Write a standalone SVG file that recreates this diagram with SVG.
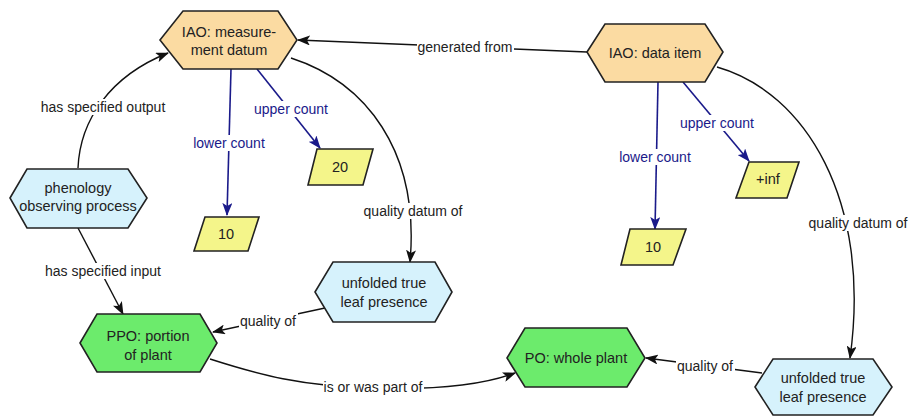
<svg xmlns="http://www.w3.org/2000/svg" width="908" height="416" viewBox="0 0 908 416">
<defs>
<style>
.n{stroke:#222;stroke-width:1.6;stroke-linejoin:miter}
.iao{fill:#fbdba2}
.blu{fill:#d6f2fc}
.grn{fill:#6ceb6c}
.val{fill:#f4f58a}
.nt{font-family:"Liberation Sans",Arial,sans-serif;font-size:14.5px;fill:#222;text-anchor:middle}
.e{fill:none;stroke:#111;stroke-width:1.4}
.eb{fill:none;stroke:#1a1a8a;stroke-width:1.6}
.bg{fill:#fff}
.el{font-family:"Liberation Sans",Arial,sans-serif;font-size:14px;fill:#222;text-anchor:middle}
.elb{fill:#1a1a8a}
</style>
<marker id="ak" viewBox="0 0 13 10" refX="12" refY="5" markerWidth="13" markerHeight="10" markerUnits="userSpaceOnUse" orient="auto">
<path d="M0,0 L13,5 L0,10 L3,5 z" fill="#111"/>
</marker>
<marker id="ab" viewBox="0 0 13 10" refX="12" refY="5" markerWidth="13" markerHeight="10" markerUnits="userSpaceOnUse" orient="auto">
<path d="M0,0 L13,5 L0,10 L3,5 z" fill="#1a1a8a"/>
</marker>
</defs>
<rect width="908" height="416" fill="#fff"/>
<g id="connectors">
<path class="e" d="M78,168 C80,120 110,76 168,53" marker-end="url(#ak)"/>
<path class="e" d="M78,228 L123,314" marker-end="url(#ak)"/>
<path class="e" d="M587,52 L298,40" marker-end="url(#ak)"/>
<path class="eb" d="M231,69 L227,215" marker-end="url(#ab)"/>
<path class="eb" d="M257,69 L320,148" marker-end="url(#ab)"/>
<path class="e" d="M291,58 C365,82 420,150 410,262" marker-end="url(#ak)"/>
<path class="eb" d="M658,82 L655,229" marker-end="url(#ab)"/>
<path class="eb" d="M683,82 L749,161" marker-end="url(#ab)"/>
<path class="e" d="M717,67 C805,92 872,200 850,358" marker-end="url(#ak)"/>
<path class="e" d="M325,308 L213,332" marker-end="url(#ak)"/>
<path class="e" d="M210,359 C260,375 300,386 373,388 C430,390 480,386 515,373" marker-end="url(#ak)"/>
<path class="e" d="M762,373 L646,358" marker-end="url(#ak)"/>
<rect class="bg" x="40" y="99" width="127" height="16"/>
<text class="el" x="103" y="112">has specified output</text>
<rect class="bg" x="44" y="263" width="119" height="16"/>
<text class="el" x="103" y="276">has specified input</text>
<rect class="bg" x="417" y="39" width="97" height="16"/>
<text class="el" x="465" y="52">generated from</text>
<rect class="bg" x="192" y="135" width="74" height="16"/>
<text class="el elb" x="229" y="148">lower count</text>
<rect class="bg" x="253" y="101" width="77" height="16"/>
<text class="el elb" x="291" y="114">upper count</text>
<rect class="bg" x="363" y="203" width="101" height="16"/>
<text class="el" x="413" y="216">quality datum of</text>
<rect class="bg" x="618" y="149" width="74" height="16"/>
<text class="el elb" x="655" y="162">lower count</text>
<rect class="bg" x="679" y="115" width="77" height="16"/>
<text class="el elb" x="717" y="128">upper count</text>
<rect class="bg" x="808" y="215" width="100" height="16"/>
<text class="el" x="858" y="228">quality datum of</text>
<rect class="bg" x="239" y="313" width="59" height="16"/>
<text class="el" x="268" y="326">quality of</text>
<rect class="bg" x="323" y="379" width="101" height="16"/>
<text class="el" x="373" y="392">is or was part of</text>
<rect class="bg" x="676" y="358" width="59" height="16"/>
<text class="el" x="705" y="371">quality of</text>
</g>
<g id="iao-measurement-datum">
<polygon class="n iao" points="160,40 183,11 278,11 297,40 278,69 183,69"/>
<text class="nt" x="229" y="37">IAO: measure-</text>
<text class="nt" x="229" y="55">ment datum</text>
</g>
<g id="iao-data-item">
<polygon class="n iao" points="587,52 605,24 705,24 723,52 705,82 605,82"/>
<text class="nt" x="655" y="58">IAO: data item</text>
</g>
<g id="phenology-observing-process">
<polygon class="n blu" points="10,198 27,169 128,169 147,198 128,228 27,228"/>
<text class="nt" x="78" y="193">phenology</text>
<text class="nt" x="78" y="211">observing process</text>
</g>
<g id="val-10-left">
<polygon class="n val" points="205,217 259,217 248,251 194,251"/>
<text class="nt" x="226" y="239">10</text>
</g>
<g id="val-20">
<polygon class="n val" points="317,149 373,149 363,185 308,185"/>
<text class="nt" x="340" y="172">20</text>
</g>
<g id="val-inf">
<polygon class="n val" points="749,162 799,162 787,198 736,198"/>
<text class="nt" x="768" y="184">+inf</text>
</g>
<g id="val-10-right">
<polygon class="n val" points="630,229 686,229 673,265 621,265"/>
<text class="nt" x="653" y="252">10</text>
</g>
<g id="unfolded-mid">
<polygon class="n blu" points="315,292 333,262 435,262 452,292 435,322 333,322"/>
<text class="nt" x="384" y="288">unfolded true</text>
<text class="nt" x="384" y="307">leaf presence</text>
</g>
<g id="ppo-portion-of-plant">
<polygon class="n grn" points="80,343 97,314 200,314 217,343 200,372 97,372"/>
<text class="nt" x="148" y="341">PPO: portion</text>
<text class="nt" x="148" y="360">of plant</text>
</g>
<g id="po-whole-plant">
<polygon class="n grn" points="507,358 525,328 627,328 645,358 627,387 525,387"/>
<text class="nt" x="576" y="363">PO: whole plant</text>
</g>
<g id="unfolded-right">
<polygon class="n blu" points="755,387 773,359 873,359 892,387 873,415 773,415"/>
<text class="nt" x="823" y="383">unfolded true</text>
<text class="nt" x="823" y="402">leaf presence</text>
</g>
</svg>
